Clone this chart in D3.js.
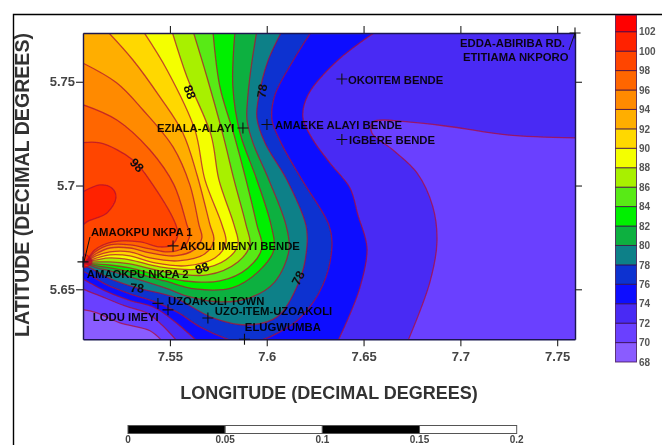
<!DOCTYPE html>
<html>
<head>
<meta charset="utf-8">
<script src="https://cdn.jsdelivr.net/npm/d3@7"></script>
<style>
 body{margin:0;background:#fff;}
 svg{display:block;font-family:"Liberation Sans",Arial,sans-serif;}
</style>
</head>
<body>
<div id="chartDiv"></div>
<script>
//Axis ticks
var lonTicks=[7.55,7.6,7.65,7.7,7.75];
var latTicks=[5.65,5.7,5.75];
var lonEdge=[7.5051,7.7592];
var latEdge=[5.6259,5.7735];
var lonOut=7.5040, lonOutRight=7.7602, latOutTop=5.7745, latOutBottom=5.6251;

//Colour key, one colour per 2 unit band
var keyTicks=[68,70,72,74,76,78,80,82,84,86,88,90,92,94,96,98,100,102];
var keyTop=103.7;
var keyColors=["#8a5cff","#6a40ff","#4a2cf4","#1010ff","#0a30d0","#108088","#10b040","#00f000",
 "#58ea18","#a8f000","#f4ff00","#ffd800","#ffae00","#ff8a00","#ff6600","#ff4400","#ff2400","#ff0000"];

//Contours, [lon,lat]
var line70=[[7.5459,5.6251],[7.5397,5.6300],[7.5242,5.6338],[7.5123,5.6386],[7.5056,5.6401],[7.5040,5.6401]];
var line72a=[[7.7602,5.7229],[7.7241,5.7244],[7.6962,5.7282],[7.6740,5.7306],[7.6548,5.7306],[7.6543,5.7253],[7.6652,5.7171],[7.6776,5.7061],[7.6858,5.6897],[7.6879,5.6728],[7.6843,5.6536],[7.6729,5.6251]];
var line72b=[[7.5536,5.6251],[7.5459,5.6328],[7.5381,5.6386],[7.5268,5.6420],[7.5139,5.6468],[7.5061,5.6497],[7.5040,5.6507]];
var line74a=[[7.6569,5.7745],[7.6363,5.7600],[7.6213,5.7436],[7.6187,5.7326],[7.6239,5.7220],[7.6326,5.7109],[7.6430,5.6988],[7.6471,5.6858],[7.6518,5.6699],[7.6481,5.6507],[7.6368,5.6251]];
var line74b=[[7.5639,5.6251],[7.5526,5.6343],[7.5423,5.6410],[7.5283,5.6449],[7.5154,5.6497],[7.5077,5.6536],[7.5040,5.6555]];
var line76=[[7.6233,5.7745],[7.6135,5.7600],[7.6042,5.7436],[7.6027,5.7316],[7.6079,5.7196],[7.6182,5.7027],[7.6321,5.6810],[7.6337,5.6714],[7.6290,5.6521],[7.6172,5.6362],[7.6068,5.6295],[7.5975,5.6256],[7.5887,5.6237],[7.5794,5.6261],[7.5655,5.6319],[7.5536,5.6391],[7.5423,5.6439],[7.5293,5.6478],[7.5175,5.6521],[7.5087,5.6569],[7.5040,5.6593]];
var line78=[[7.6079,5.7745],[7.6006,5.7600],[7.5960,5.7436],[7.5949,5.7326],[7.5991,5.7205],[7.6104,5.7027],[7.6202,5.6810],[7.6208,5.6714],[7.6172,5.6550],[7.6053,5.6367],[7.5898,5.6328],[7.5722,5.6362],[7.5516,5.6463],[7.5330,5.6507],[7.5206,5.6545],[7.5087,5.6603],[7.5040,5.6617]];
var line80=[[7.5949,5.7745],[7.5924,5.7600],[7.5903,5.7436],[7.5898,5.7316],[7.5929,5.7205],[7.6011,5.7027],[7.6099,5.6810],[7.6115,5.6690],[7.6042,5.6536],[7.5913,5.6459],[7.5758,5.6439],[7.5603,5.6463],[7.5474,5.6507],[7.5293,5.6560],[7.5190,5.6589],[7.5123,5.6603],[7.5061,5.6622],[7.5040,5.6622]];
var line82=[[7.5836,5.7745],[7.5825,5.7475],[7.5862,5.7253],[7.5949,5.7027],[7.6022,5.6810],[7.6037,5.6690],[7.5955,5.6584],[7.5820,5.6507],[7.5629,5.6502],[7.5474,5.6540],[7.5293,5.6584],[7.5190,5.6603],[7.5123,5.6613],[7.5061,5.6625],[7.5040,5.6625]];
var line84=[[7.5722,5.7745],[7.5758,5.7475],[7.5831,5.7244],[7.5893,5.7027],[7.5949,5.6810],[7.5975,5.6699],[7.5903,5.6603],[7.5758,5.6540],[7.5578,5.6540],[7.5448,5.6565],[7.5293,5.6603],[7.5190,5.6617],[7.5123,5.6622],[7.5061,5.6627],[7.5040,5.6627]];
var line86=[[7.5619,5.7745],[7.5691,5.7523],[7.5774,5.7244],[7.5831,5.7027],[7.5893,5.6810],[7.5913,5.6714],[7.5851,5.6632],[7.5691,5.6569],[7.5474,5.6584],[7.5293,5.6622],[7.5190,5.6632],[7.5123,5.6632],[7.5061,5.6630],[7.5040,5.6630]];
var line88=[[7.5510,5.7745],[7.5588,5.7523],[7.5712,5.7244],[7.5753,5.7027],[7.5831,5.6810],[7.5851,5.6714],[7.5789,5.6642],[7.5655,5.6598],[7.5448,5.6608],[7.5293,5.6642],[7.5190,5.6651],[7.5123,5.6642],[7.5061,5.6632],[7.5040,5.6632]];
var line90=[[7.5361,5.7745],[7.5485,5.7557],[7.5629,5.7268],[7.5681,5.7027],[7.5769,5.6810],[7.5789,5.6724],[7.5732,5.6651],[7.5578,5.6613],[7.5423,5.6627],[7.5293,5.6661],[7.5190,5.6666],[7.5123,5.6651],[7.5061,5.6632],[7.5040,5.6632]];
var line92=[[7.5175,5.7745],[7.5309,5.7605],[7.5448,5.7427],[7.5567,5.7253],[7.5640,5.7051],[7.5707,5.6810],[7.5727,5.6738],[7.5681,5.6671],[7.5541,5.6637],[7.5397,5.6651],[7.5293,5.6680],[7.5190,5.6680],[7.5118,5.6661],[7.5061,5.6632],[7.5040,5.6632]];
var line94=[[7.5040,5.7595],[7.5226,5.7494],[7.5361,5.7364],[7.5516,5.7186],[7.5603,5.7003],[7.5650,5.6810],[7.5665,5.6748],[7.5624,5.6690],[7.5526,5.6661],[7.5397,5.6675],[7.5293,5.6699],[7.5190,5.6699],[7.5118,5.6671],[7.5061,5.6632],[7.5040,5.6632]];
var line96=[[7.5040,5.7393],[7.5226,5.7316],[7.5397,5.7171],[7.5521,5.7003],[7.5588,5.6810],[7.5603,5.6762],[7.5567,5.6699],[7.5490,5.6680],[7.5397,5.6695],[7.5293,5.6714],[7.5190,5.6714],[7.5113,5.6680],[7.5061,5.6632],[7.5040,5.6632]];
var line98=[[7.5040,5.7205],[7.5139,5.7205],[7.5309,5.7123],[7.5412,5.7003],[7.5531,5.6810],[7.5541,5.6762],[7.5510,5.6714],[7.5448,5.6704],[7.5345,5.6728],[7.5206,5.6728],[7.5113,5.6690],[7.5061,5.6632],[7.5040,5.6632]];
var line100a=[[7.5040,5.6964],[7.5139,5.7003],[7.5200,5.6988],[7.5221,5.6940],[7.5175,5.6868],[7.5071,5.6825],[7.5040,5.6801]];
var line100b=[[7.5040,5.6675],[7.5077,5.6661],[7.5097,5.6632],[7.5071,5.6608],[7.5040,5.6603]];

//Contour labels
var clabelText=["98","88","78","88","78","78"];
var clabelLon=[7.5330,7.5603,7.5975,7.5665,7.5330,7.6161];
var clabelLat=[5.7099,5.7451,5.7456,5.6603,5.6507,5.6555];
var clabelAngle=[45,70,-80,-20,5,-62];

//Sample sites (the + marks)
var siteLon=[7.7592,7.6388,7.6001,7.6388,7.5877,7.5051,7.5516,7.5438,7.5490,7.5696,7.5885];
var siteLat=[5.7735,5.7513,5.7294,5.7222,5.7277,5.6632,5.6709,5.6432,5.6401,5.6362,5.6259];

//Site names
var nameText=["EDDA-ABIRIBA RD.","ETITIAMA NKPORO","OKOITEM BENDE","AMAEKE ALAYI BENDE","IGBERE BENDE","EZIALA-ALAYI","AMAOKPU NKPA 1","AKOLI IMENYI BENDE","AMAOKPU NKPA 2","UZOAKOLI TOWN","LODU IMEYI","UZO-ITEM-UZOAKOLI","ELUGWUMBA"];
var nameLon=[7.6998,7.7013,7.6419,7.6042,7.6425,7.5433,7.5092,7.5552,7.5071,7.5490,7.5102,7.5732,7.5887];
var nameLat=[5.7687,5.7619,5.7509,5.7292,5.7220,5.7277,5.6776,5.6709,5.6574,5.6444,5.6367,5.6396,5.6319];

//Leaders from a name to its +
var leaderFrom=[[7.7561,5.7653],[7.5087,5.6752]];
var leaderTo=[[7.7592,5.7735],[7.5056,5.6632]];

//Scale bar
var barTicks=[0,0.05,0.1,0.15,0.2];

var width=662, height=445;
var xScale=d3.scaleLinear().domain(lonEdge).range([83,575]);
var yScale=d3.scaleLinear().domain(latEdge).range([339.3,33]);
var keyScale=d3.scaleLinear().domain([68,102]).range([362,31.7]);
var barScale=d3.scaleLinear().domain([0,0.2]).range([128,516.7]);

var svg=d3.select("#chartDiv").append("svg").attr("width",width).attr("height",height);
var defs=svg.append("defs");
defs.append("filter").attr("id","soft").attr("x","-2%").attr("y","-2%").attr("width","104%").attr("height","104%")
 .append("feGaussianBlur").attr("stdDeviation",0.45);
defs.append("clipPath").attr("id","plotClip").append("rect")
 .attr("x",83).attr("y",33).attr("width",492).attr("height",306.3);

var root=svg.append("g").attr("filter","url(#soft)");

//Frame round the figure, top and left only
root.append("path").attr("d","M13.5,445V14.5H662").attr("fill","none").attr("stroke","#000").attr("stroke-width",1.4);

var contourLine=d3.line().x(function(d){return xScale(d[0]);}).y(function(d){return yScale(d[1]);}).curve(d3.curveCatmullRom.alpha(0.5));

function ring(parts,corners){			//Join curves and corners into one closed path
 var s="";
 parts.forEach(function(p,i){
  var d=contourLine(p);
  s+=(i==0)?d:"L"+d.substring(1);
 });
 (corners||[]).forEach(function(c){ s+="L"+xScale(c[0])+","+yScale(c[1]); });
 return s+"Z";
}

var TL=[lonOut,latOutTop], TR=[lonOutRight,latOutTop], BL=[lonOut,latOutBottom];
var bands=[						//Painted low to high, each over the last
 {c:0,d:ring([line70],[BL])},
 {c:2,d:ring([line72a,line72b],[TL,TR])},
 {c:3,d:ring([line74a,line74b],[TL])},
 {c:4,d:ring([line76],[TL])},
 {c:5,d:ring([line78],[TL])},
 {c:6,d:ring([line80],[TL])},
 {c:7,d:ring([line82],[TL])},
 {c:8,d:ring([line84],[TL])},
 {c:9,d:ring([line86],[TL])},
 {c:10,d:ring([line88],[TL])},
 {c:11,d:ring([line90],[TL])},
 {c:12,d:ring([line92],[TL])},
 {c:13,d:ring([line94])},
 {c:14,d:ring([line96])},
 {c:15,d:ring([line98])},
 {c:16,d:ring([line100a])},
 {c:16,d:ring([line100b])}
];
var allLines=[line70,line72a,line72b,line74a,line74b,line76,line78,line80,line82,line84,line86,line88,line90,line92,line94,line96,line98,line100a,line100b];

var plot=root.append("g").attr("clip-path","url(#plotClip)");
plot.append("rect").attr("x",83).attr("y",33).attr("width",492).attr("height",306.3).attr("fill",keyColors[1]);
plot.selectAll(".band").data(bands).enter().append("path").attr("class","band")
 .attr("d",function(d){return d.d;})
 .attr("fill",function(d){return keyColors[d.c];});
plot.selectAll(".cline").data(allLines).enter().append("path").attr("class","cline")
 .attr("d",contourLine)
 .attr("fill","none").attr("stroke","#b00c30").attr("stroke-opacity",0.72).attr("stroke-width",1.3);

//Axes
function styleAxis(g){
 g.selectAll("path").attr("stroke","#1c1850").attr("stroke-width",1.4);
 g.selectAll("line").attr("stroke","#222").attr("stroke-width",1.1);
 g.selectAll("text").attr("fill","#444").style("font-size","13px").style("font-weight","bold").style("font-family","'Liberation Sans',Arial,sans-serif");
}
var fmt=function(d){return String(d);};
root.append("g").attr("transform","translate(0,339.3)")
 .call(d3.axisBottom(xScale).tickValues(lonTicks).tickFormat(fmt).tickSize(7).tickPadding(5).tickSizeOuter(0)).call(styleAxis);
root.append("g").attr("transform","translate(0,33)")
 .call(d3.axisTop(xScale).tickValues(lonTicks).tickFormat("").tickSize(7).tickSizeOuter(0)).call(styleAxis);
root.append("g").attr("transform","translate(83,0)")
 .call(d3.axisLeft(yScale).tickValues(latTicks).tickFormat(fmt).tickSize(7).tickPadding(1).tickSizeOuter(0)).call(styleAxis);
root.append("g").attr("transform","translate(575,0)")
 .call(d3.axisRight(yScale).tickValues(latTicks).tickFormat("").tickSize(7).tickSizeOuter(0)).call(styleAxis);

//Axis titles
root.append("text").attr("x",329).attr("y",399).attr("text-anchor","middle")
 .attr("fill","#333").style("font-size","18px").style("font-weight","bold").text("LONGITUDE (DECIMAL DEGREES)");
root.append("text").attr("transform","translate(28.5,185)rotate(-90)").attr("text-anchor","middle")
 .attr("fill","#333").style("font-size","19.6px").style("font-weight","bold").text("LATITUDE (DECIMAL DEGREES)");

//Contour labels
root.selectAll(".clabel").data(clabelText).enter().append("text").attr("class","clabel")
 .attr("transform",function(d,i){return "translate("+xScale(clabelLon[i])+","+yScale(clabelLat[i])+")rotate("+clabelAngle[i]+")";})
 .attr("text-anchor","middle").attr("dy","0.36em")
 .attr("fill","#111").style("font-size","12.5px").style("font-weight","bold").text(function(d){return d;});

//Leaders, plus marks and site names
root.selectAll(".leader").data(leaderFrom).enter().append("line").attr("class","leader")
 .attr("x1",function(d){return xScale(d[0]);}).attr("y1",function(d){return yScale(d[1]);})
 .attr("x2",function(d,i){return xScale(leaderTo[i][0]);}).attr("y2",function(d,i){return yScale(leaderTo[i][1]);})
 .attr("stroke","#111").attr("stroke-width",1);
root.selectAll(".site").data(siteLon).enter().append("path").attr("class","site")
 .attr("d",function(d,i){var x=xScale(d),y=yScale(siteLat[i]);return "M"+(x-5.5)+","+y+"H"+(x+5.5)+"M"+x+","+(y-5.5)+"V"+(y+5.5);})
 .attr("stroke","#111").attr("stroke-width",1.1).attr("fill","none");
root.selectAll(".sname").data(nameText).enter().append("text").attr("class","sname")
 .attr("x",function(d,i){return xScale(nameLon[i]);}).attr("y",function(d,i){return yScale(nameLat[i]);})
 .attr("dy","0.36em").attr("fill","#000000").attr("fill-opacity",0.9)
 .style("font-size","11.3px").style("font-weight","bold").text(function(d){return d;});

//Colour key
var keyEdges=keyTicks.concat([keyTop]);
var key=root.append("g");
key.selectAll("rect").data(keyColors).enter().append("rect")
 .attr("x",615.5).attr("width",21)
 .attr("y",function(d,i){return keyScale(keyEdges[i+1]);})
 .attr("height",function(d,i){return keyScale(keyEdges[i])-keyScale(keyEdges[i+1]);})
 .attr("fill",function(d){return d;})
 .attr("stroke","#3a0a4a").attr("stroke-opacity",0.75).attr("stroke-width",1);
var keyAxis=root.append("g").attr("transform","translate(636,0)")
 .call(d3.axisRight(keyScale).tickValues(keyTicks).tickFormat(fmt).tickSize(0).tickPadding(3));
keyAxis.select("path").remove();
keyAxis.selectAll("text").attr("fill","#555").style("font-size","10px").style("font-weight","bold").style("font-family","'Liberation Sans',Arial,sans-serif");

//Scale bar
var bar=root.append("g");
bar.selectAll("rect").data(barTicks.slice(0,4)).enter().append("rect")
 .attr("x",function(d){return barScale(d);}).attr("y",425.5)
 .attr("width",function(d,i){return barScale(barTicks[i+1])-barScale(d);}).attr("height",8)
 .attr("fill",function(d,i){return i%2?"#fff":"#000";})
 .attr("stroke","#555").attr("stroke-width",1);
bar.selectAll("text").data(barTicks).enter().append("text")
 .attr("x",function(d){return barScale(d);}).attr("y",442.8).attr("text-anchor","middle")
 .attr("fill","#444").style("font-size","10px").style("font-weight","bold").text(function(d){return String(d);});
</script>
</body>
</html>
